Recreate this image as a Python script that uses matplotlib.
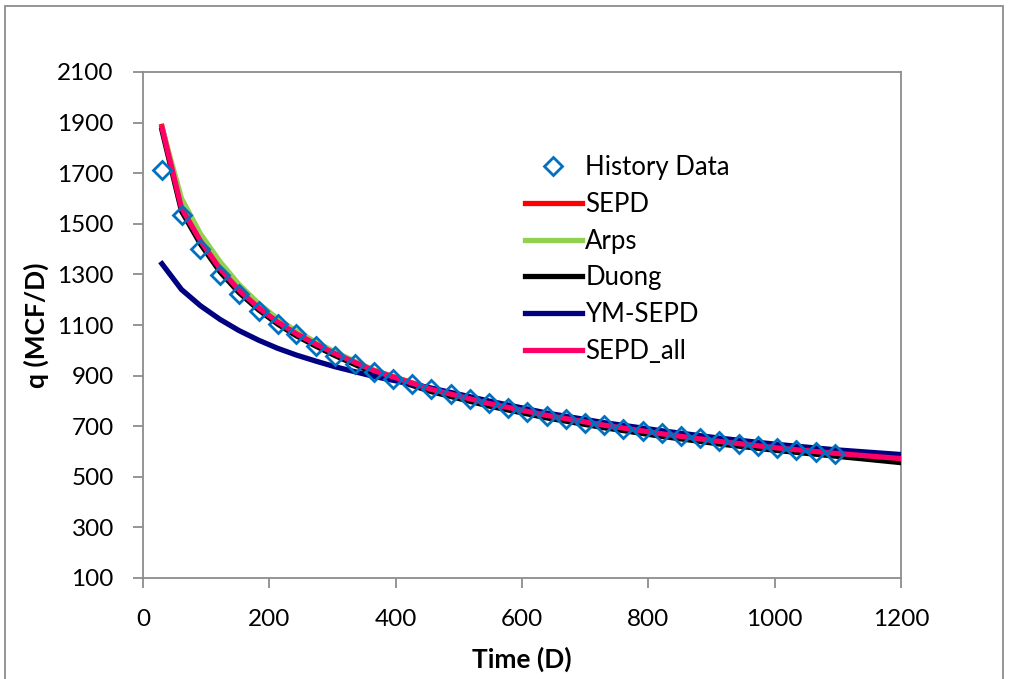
import matplotlib
matplotlib.use("Agg")
import matplotlib.pyplot as plt
from matplotlib.patches import Rectangle

plt.rcParams['font.family'] = ['Lato', 'DejaVu Sans']

# history data (monthly)
hist_t = [30, 61, 91, 122, 152, 183, 213, 243, 274, 304, 335, 365,
          396, 426, 456, 487, 517, 547, 578, 608, 639, 669, 699, 730,
          760, 791, 821, 852, 882, 912, 943, 973, 1004, 1034, 1065, 1095]
hist_q = [1713, 1536, 1402, 1299, 1223, 1157, 1105, 1063, 1016, 977, 944, 914,
          888, 865, 846, 826, 809, 790, 773, 756, 740, 727, 714, 704,
          690, 681, 672, 662, 652, 642, 631, 622, 613, 605, 598, 592]

# model curves
model_t = [30, 61, 91, 122, 152, 183, 213, 243, 274, 304, 365, 456, 547,
           639, 730, 821, 912, 1004, 1095, 1200]
sepd = [1885, 1565, 1435, 1324, 1240, 1170, 1113, 1066, 1025, 988, 921, 847, 791,
        744, 705, 671, 641, 615, 594, 573]
arps = [1880, 1600, 1460, 1350, 1260, 1185, 1125, 1075, 1032, 993, 922, 845, 787,
        739, 699, 665, 635, 609, 588, 566]
duong = [1870, 1550, 1420, 1310, 1228, 1160, 1104, 1057, 1016, 979, 911, 837, 780,
         733, 694, 660, 630, 604, 582, 556]
ym_sepd = [1342, 1240, 1176, 1122, 1078, 1040, 1008, 981, 957, 935, 897, 851, 800,
           752, 714, 682, 653, 628, 607, 588]
sepd_all = [1880, 1562, 1432, 1322, 1238, 1168, 1112, 1065, 1024, 987, 920, 846, 790,
            743, 704, 670, 640, 614, 593, 572]

fig = plt.figure(figsize=(10.10, 6.79), dpi=100)
ax = fig.add_axes([143 / 1010, 1 - 578 / 679, 758 / 1010, 506 / 679])

lw = 3.8
ax.plot(hist_t, hist_q, linestyle='none', marker='D', markersize=9.5,
        markerfacecolor='none', markeredgecolor='#0070C0', markeredgewidth=2,
        label='History Data', zorder=10)
ax.plot(model_t, sepd, color='#FF0000', lw=lw, label='SEPD', zorder=3)
ax.plot(model_t, arps, color='#92D050', lw=lw, label='Arps', zorder=3)
ax.plot(model_t, duong, color='#000000', lw=lw, label='Duong', zorder=4)
ax.plot(model_t, ym_sepd, color='#000080', lw=lw, label='YM-SEPD', zorder=5)
ax.plot(model_t, sepd_all, color='#FF0066', lw=lw, label='SEPD_all', zorder=6)

ax.set_xlim(0, 1200)
ax.set_ylim(100, 2100)
ax.set_xticks(range(0, 1201, 200))
ax.set_yticks(range(100, 2101, 200))

for s in ax.spines.values():
    s.set_color('#8C8C8C')
    s.set_linewidth(1.3)
ax.tick_params(axis='both', direction='out', length=7, width=1.3,
               color='#8C8C8C', labelsize=17.5, pad=14)
ax.tick_params(axis='x', pad=15)

ax.set_xlabel('Time (D)', fontsize=19, fontweight='bold', labelpad=12)
ax.set_ylabel('q (MCF/D)', fontsize=19, fontweight='bold', labelpad=6)

ax.legend(loc='upper left', bbox_to_anchor=(0.504, 0.836), frameon=False,
          fontsize=18.5, handlelength=2.2, handletextpad=0.15, labelspacing=0.46,
          borderpad=0, borderaxespad=0, numpoints=1)

# outer chart border
fig.patches.append(Rectangle((5 / 1010, -0.05), 998 / 1010, 1.05 - 6 / 679,
                             transform=fig.transFigure, fill=False,
                             edgecolor='#8C8C8C', linewidth=1.3))

fig.savefig('out.png', dpi=100)
